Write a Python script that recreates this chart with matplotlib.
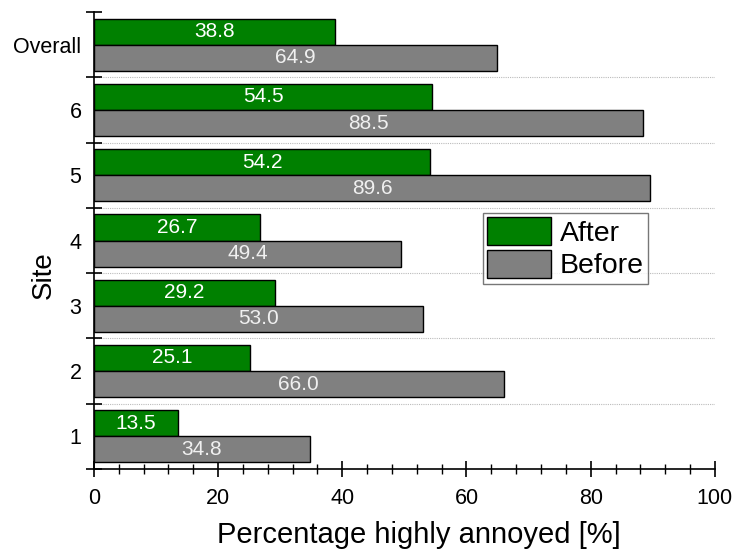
import matplotlib
matplotlib.use("Agg")
import matplotlib.pyplot as plt
import numpy as np
from matplotlib.ticker import MultipleLocator, FixedLocator, NullFormatter, FixedFormatter

plt.rcParams['font.family'] = ['Liberation Sans', 'DejaVu Sans']

sites = ['1', '2', '3', '4', '5', '6', 'Overall']
after = [13.5, 25.1, 29.2, 26.7, 54.2, 54.5, 38.8]
before = [34.8, 66.0, 53.0, 49.4, 89.6, 88.5, 64.9]

fig = plt.figure(figsize=(7.4, 5.51), dpi=100)
ax = fig.add_axes([0.127, 0.149, 0.839, 0.829])

y = np.arange(len(sites))
h = 0.4
ax.barh(y + h / 2, after, height=h, color='#008000', edgecolor='black', linewidth=1, label='After', zorder=3)
ax.barh(y - h / 2, before, height=h, color='#808080', edgecolor='black', linewidth=1, label='Before', zorder=3)

for yi, v in zip(y, after):
    ax.text(v / 2, yi + h / 2, f'{v:.1f}', ha='center', va='center', color='white', fontsize=15, zorder=4)
for yi, v in zip(y, before):
    ax.text(v / 2, yi - h / 2, f'{v:.1f}', ha='center', va='center', color='#f0f0f0', fontsize=15, zorder=4)

ax.set_xlim(0, 100)
ax.set_ylim(-0.5, len(sites) - 0.5)

ax.xaxis.set_major_locator(MultipleLocator(20))
ax.xaxis.set_minor_locator(MultipleLocator(4))
ax.tick_params(axis='x', which='major', direction='inout', length=12, width=1.2, labelsize=15.5, pad=8)
ax.tick_params(axis='x', which='minor', direction='inout', length=7, width=1)

bounds = np.arange(-0.5, len(sites), 1.0)
ax.yaxis.set_major_locator(FixedLocator(bounds))
ax.yaxis.set_major_formatter(NullFormatter())
ax.yaxis.set_minor_locator(FixedLocator(y))
ax.yaxis.set_minor_formatter(FixedFormatter(sites))
ax.tick_params(axis='y', which='major', direction='inout', length=12, width=1.2)
ax.tick_params(axis='y', which='minor', length=0, labelsize=15.5, pad=9)

for b in bounds[1:-1]:
    ax.axhline(b, color='#bbbbbb', linestyle=(0, (1, 1)), linewidth=0.8, zorder=1)

for s in ['top', 'right']:
    ax.spines[s].set_visible(False)
for s in ['left', 'bottom']:
    ax.spines[s].set_linewidth(1.2)

ax.set_xlabel('Percentage highly annoyed [%]', fontsize=21, va='baseline')
ax.xaxis.set_label_coords(0.524, -0.162)
ax.set_ylabel('Site', fontsize=20)
ax.yaxis.set_label_coords(-0.060, 0.424)

leg = ax.legend(loc='upper left', bbox_to_anchor=(0.626, 0.561), fontsize=20.5, frameon=True, fancybox=False,
                edgecolor='#555555', handlelength=2.25, handleheight=1.16, borderpad=0.15,
                labelspacing=0.1, handletextpad=0.3, borderaxespad=0)
leg.get_frame().set_linewidth(1)

fig.savefig('out.png', dpi=100)
